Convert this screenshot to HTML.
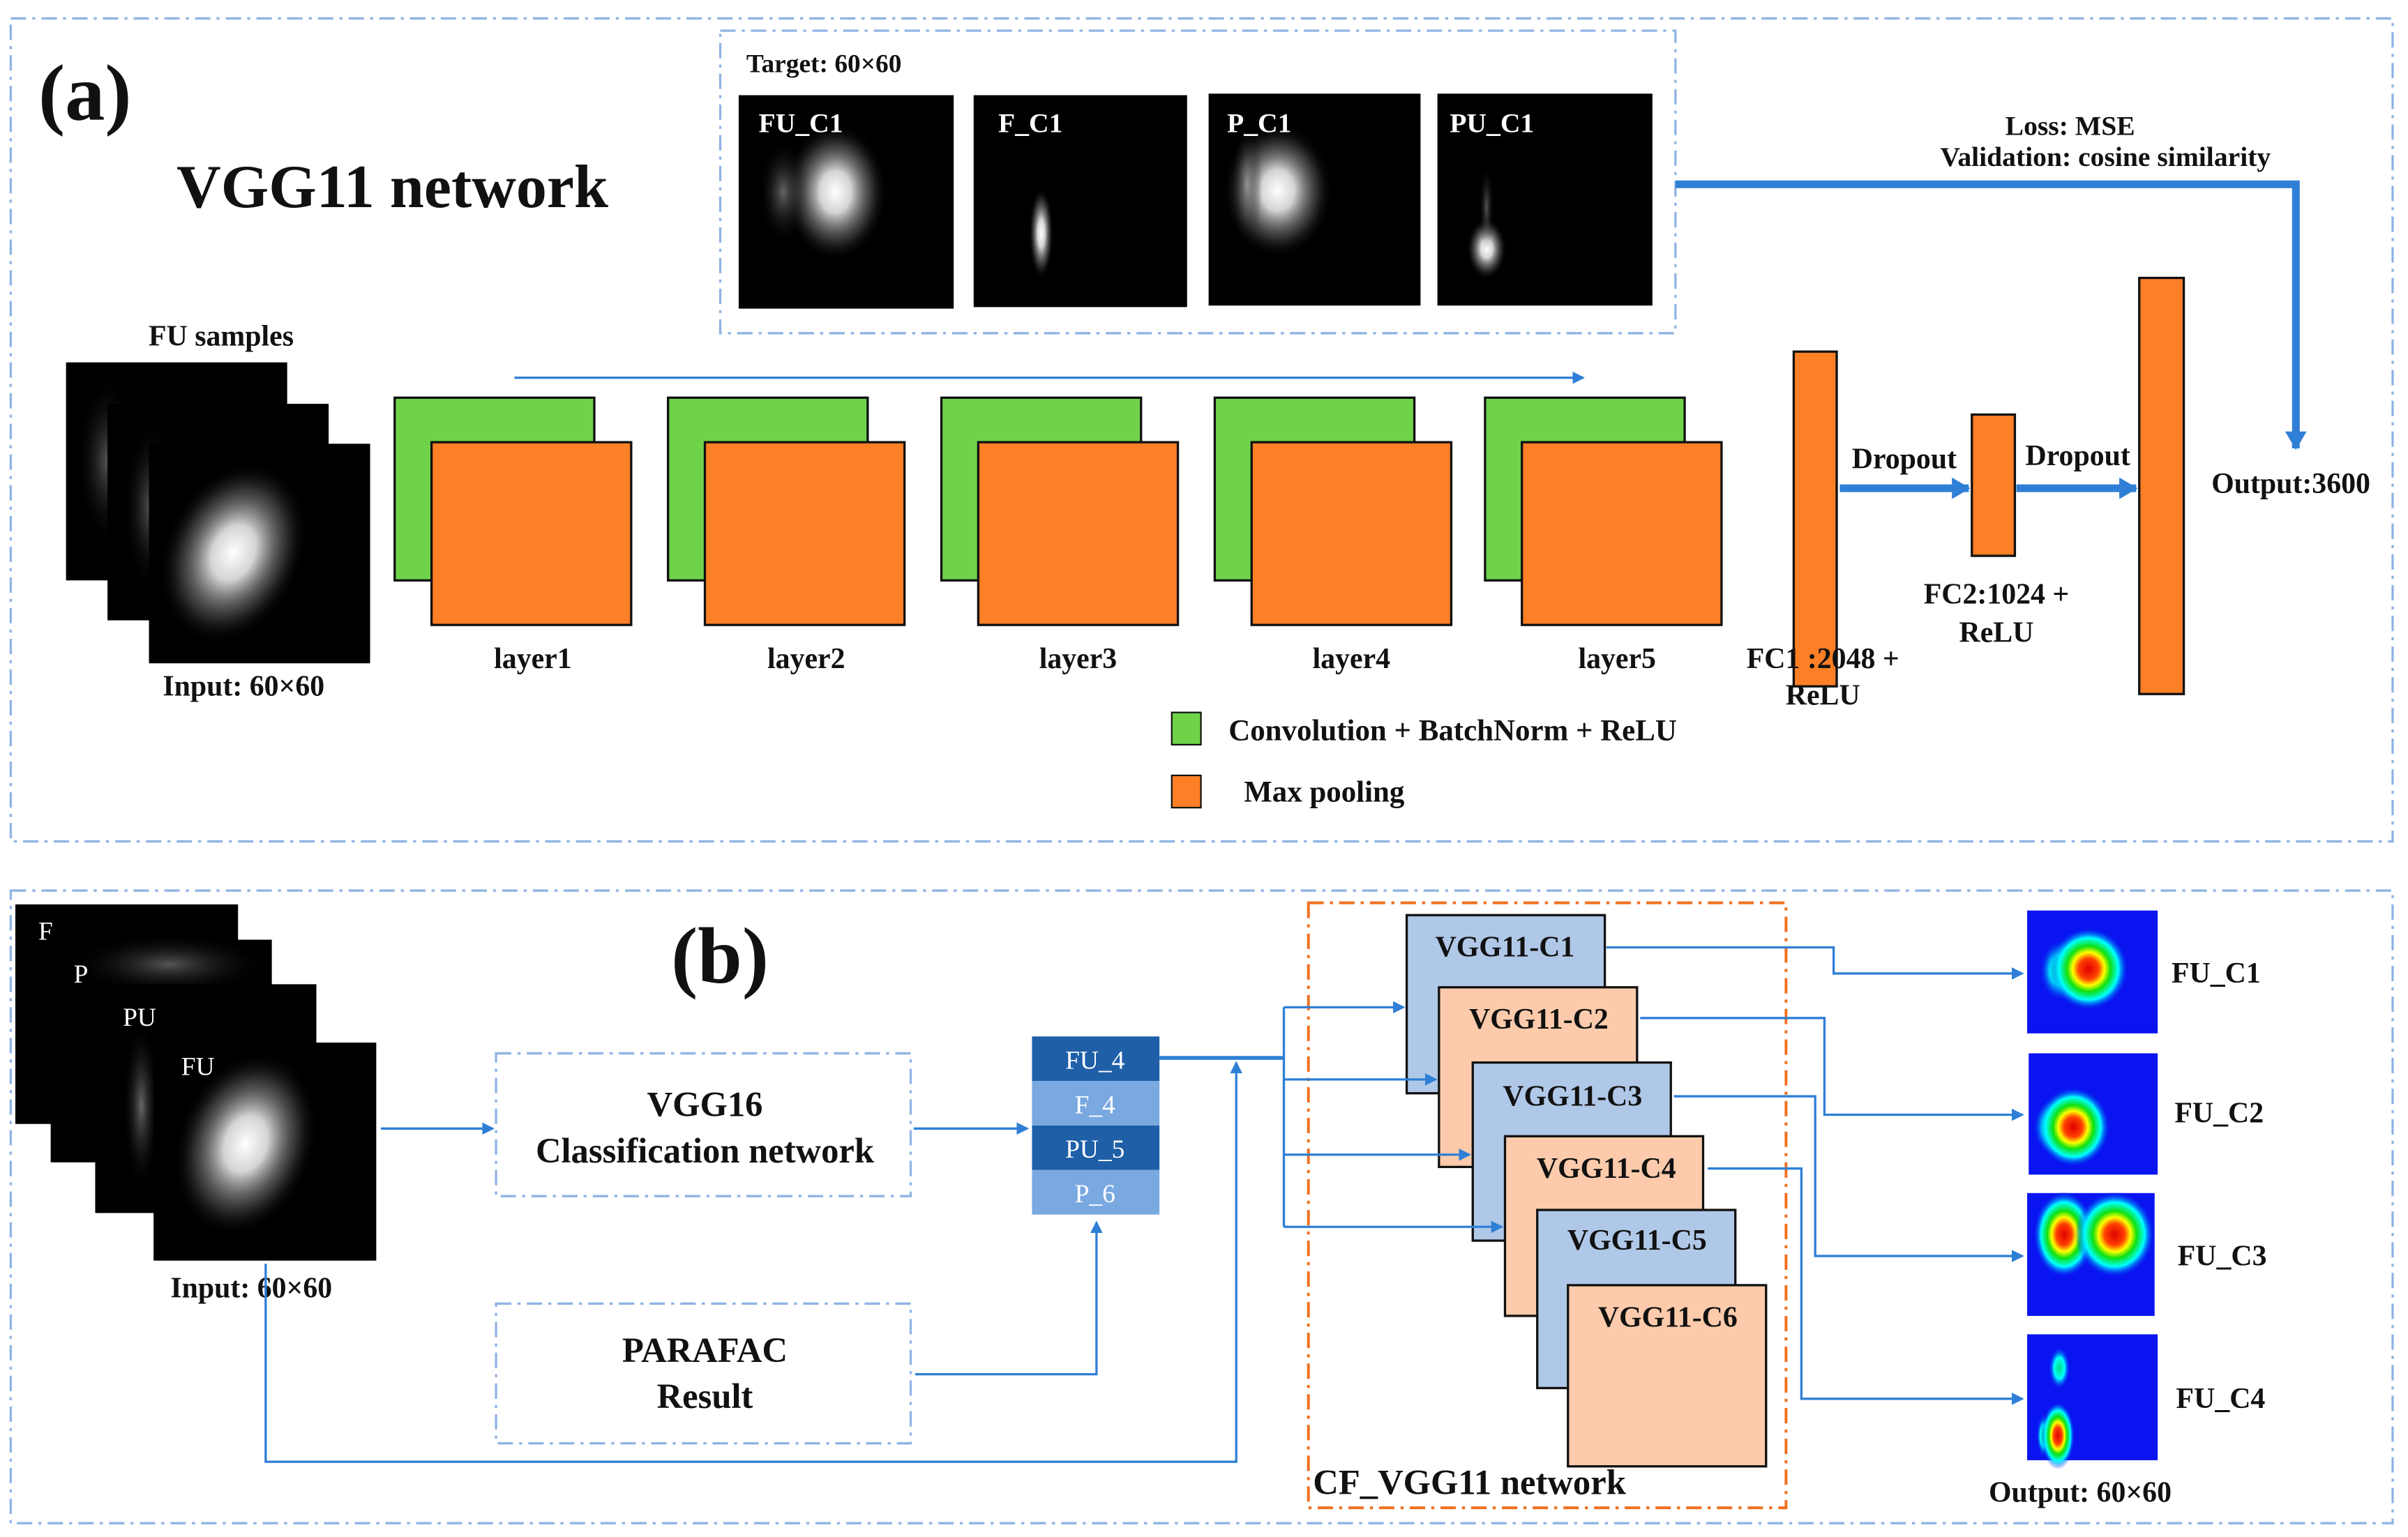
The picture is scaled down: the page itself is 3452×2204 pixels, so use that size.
<!DOCTYPE html>
<html><head><meta charset="utf-8"><style>
html,body{margin:0;padding:0;background:#fff;}
svg{display:block;}
text{font-family:"Liberation Serif",serif;font-weight:bold;fill:#111;}
.w{fill:#fff;}
</style></head><body>
<svg width="3452" height="2204" viewBox="0 0 1568 1001" preserveAspectRatio="none" xmlns="http://www.w3.org/2000/svg">
<defs>
<radialGradient id="wb"><stop offset="0" stop-color="#fff"/><stop offset="0.3" stop-color="#e0e0e0" stop-opacity="0.95"/><stop offset="0.7" stop-color="#666" stop-opacity="0.5"/><stop offset="1" stop-color="#000" stop-opacity="0"/></radialGradient>
<radialGradient id="gb"><stop offset="0" stop-color="#aaa"/><stop offset="1" stop-color="#000" stop-opacity="0"/></radialGradient>
<radialGradient id="jet"><stop offset="0" stop-color="#e00000"/><stop offset="0.25" stop-color="#ff4000"/><stop offset="0.4" stop-color="#ffff00"/><stop offset="0.55" stop-color="#10e010"/><stop offset="0.75" stop-color="#00ffff"/><stop offset="1" stop-color="#0010f0" stop-opacity="0"/></radialGradient>
<radialGradient id="jetc"><stop offset="0" stop-color="#00e080"/><stop offset="0.5" stop-color="#00ffff"/><stop offset="1" stop-color="#0010f0" stop-opacity="0"/></radialGradient>
<marker id="ah" markerWidth="8" markerHeight="8" refX="7" refY="4" orient="auto" markerUnits="userSpaceOnUse"><path d="M0,0 L8,4 L0,8 z" fill="#2f7fd6"/></marker>
<marker id="ahb" markerWidth="12" markerHeight="14" refX="11" refY="7" orient="auto" markerUnits="userSpaceOnUse"><path d="M0,0 L12,7 L0,14 z" fill="#2f7fd6"/></marker>
</defs>

<rect x="7" y="12" width="1551" height="536" fill="none" stroke="#8fb4e4" stroke-width="1.5" stroke-dasharray="10,4,2,4"/>
<text x="25" y="78" font-size="52">(a)</text>
<text x="115" y="135" font-size="40">VGG11 network</text>

<rect x="469" y="20" width="622" height="197" fill="none" stroke="#8fb4e4" stroke-width="1.5" stroke-dasharray="10,4,2,4"/>
<text x="486" y="47" font-size="17">Target:  60×60</text>
<rect x="481" y="62" width="140" height="139" fill="#000"/>
<ellipse cx="544" cy="125" rx="34" ry="45" fill="url(#wb)"/>
<ellipse cx="510" cy="125" rx="16" ry="34" fill="url(#gb)" opacity="0.6"/>
<text x="494" y="86" font-size="18" class="w">FU_C1</text>
<rect x="634" y="62" width="139" height="138" fill="#000"/>
<ellipse cx="678" cy="152" rx="8" ry="30" fill="url(#wb)"/>
<text x="650" y="86" font-size="18" class="w">F_C1</text>
<rect x="787" y="61" width="138" height="138" fill="#000"/>
<ellipse cx="832" cy="124" rx="36" ry="44" fill="url(#wb)"/>
<ellipse cx="812" cy="120" rx="10" ry="40" fill="url(#gb)" opacity="0.7"/>
<text x="799" y="86" font-size="18" class="w">P_C1</text>
<rect x="936" y="61" width="140" height="138" fill="#000"/>
<ellipse cx="968" cy="162" rx="13" ry="20" fill="url(#wb)"/>
<ellipse cx="968" cy="135" rx="5" ry="28" fill="url(#gb)" opacity="0.5"/>
<text x="944" y="86" font-size="18" class="w">PU_C1</text>

<text x="1348" y="88" font-size="18" text-anchor="middle">Loss: MSE</text>
<text x="1371" y="108" font-size="18" text-anchor="middle">Validation: cosine similarity</text>
<path d="M1091,120 L1495,120 L1495,292" fill="none" stroke="#2f7fd6" stroke-width="5" marker-end="url(#ahb)"/>

<text x="144" y="225" font-size="19" text-anchor="middle">FU samples</text>
<rect x="43" y="236" width="144" height="142" fill="#000"/>
<ellipse cx="70" cy="300" rx="20" ry="55" fill="url(#gb)" opacity="0.5"/>
<rect x="70" y="263" width="144" height="141" fill="#000"/>
<ellipse cx="98" cy="330" rx="18" ry="55" fill="url(#gb)" opacity="0.5"/>
<rect x="97" y="289" width="144" height="143" fill="#000"/>
<ellipse cx="152" cy="360" rx="45" ry="62" fill="url(#wb)" transform="rotate(25 152 360)"/>
<text x="106" y="453" font-size="19">Input:  60×60</text>

<line x1="335" y1="246" x2="1031" y2="246" stroke="#2f7fd6" stroke-width="1.5" marker-end="url(#ah)"/>

<g stroke="#111" stroke-width="1.5">
<rect x="257" y="259" width="130" height="119" fill="#6fd34a"/><rect x="281" y="288" width="130" height="119" fill="#fd7f26"/>
<rect x="435" y="259" width="130" height="119" fill="#6fd34a"/><rect x="459" y="288" width="130" height="119" fill="#fd7f26"/>
<rect x="613" y="259" width="130" height="119" fill="#6fd34a"/><rect x="637" y="288" width="130" height="119" fill="#fd7f26"/>
<rect x="791" y="259" width="130" height="119" fill="#6fd34a"/><rect x="815" y="288" width="130" height="119" fill="#fd7f26"/>
<rect x="967" y="259" width="130" height="119" fill="#6fd34a"/><rect x="991" y="288" width="130" height="119" fill="#fd7f26"/>
<rect x="1168" y="229" width="28" height="218" fill="#fd7f26"/>
<rect x="1284" y="270" width="28" height="92" fill="#fd7f26"/>
<rect x="1393" y="181" width="29" height="271" fill="#fd7f26"/>
</g>
<g font-size="19" text-anchor="middle">
<text x="347" y="435">layer1</text><text x="525" y="435">layer2</text><text x="702" y="435">layer3</text><text x="880" y="435">layer4</text><text x="1053" y="435">layer5</text>
<text x="1187" y="435">FC1 :2048 +</text><text x="1187" y="459">ReLU</text>
<text x="1300" y="393">FC2:1024 +</text><text x="1300" y="418">ReLU</text>
<text x="1240" y="305">Dropout</text><text x="1353" y="303">Dropout</text>
</g>
<text x="1440" y="321" font-size="19">Output:3600</text>
<line x1="1198" y1="318" x2="1282" y2="318" stroke="#2f7fd6" stroke-width="5" marker-end="url(#ahb)"/>
<line x1="1313" y1="318" x2="1391" y2="318" stroke="#2f7fd6" stroke-width="5" marker-end="url(#ahb)"/>

<rect x="763" y="464" width="19" height="21" fill="#6fd34a" stroke="#111"/>
<text x="800" y="482" font-size="19.5">Convolution + BatchNorm + ReLU</text>
<rect x="763" y="505" width="19" height="21" fill="#fd7f26" stroke="#111"/>
<text x="810" y="522" font-size="19.5">Max pooling</text>

<rect x="7" y="580" width="1551" height="412" fill="none" stroke="#8fb4e4" stroke-width="1.5" stroke-dasharray="10,4,2,4"/>
<text x="437" y="640" font-size="52">(b)</text>

<rect x="10" y="589" width="145" height="143" fill="#000"/>
<text x="25" y="612" font-size="17" class="w" style="font-weight:normal">F</text>
<rect x="33" y="612" width="144" height="145" fill="#000"/>
<ellipse cx="110" cy="628" rx="65" ry="20" fill="url(#gb)" opacity="0.5"/>
<text x="48" y="640" font-size="17" class="w" style="font-weight:normal">P</text>
<rect x="62" y="641" width="144" height="149" fill="#000"/>
<ellipse cx="92" cy="720" rx="12" ry="55" fill="url(#gb)" opacity="0.6"/>
<text x="80" y="668" font-size="17" class="w" style="font-weight:normal">PU</text>
<rect x="100" y="679" width="145" height="142" fill="#000"/>
<ellipse cx="160" cy="745" rx="45" ry="62" fill="url(#wb)" transform="rotate(20 160 745)"/>
<text x="118" y="700" font-size="17" class="w" style="font-weight:normal">FU</text>
<text x="111" y="845" font-size="19">Input:  60×60</text>

<line x1="248" y1="735" x2="321" y2="735" stroke="#2f7fd6" stroke-width="1.5" marker-end="url(#ah)"/>
<rect x="323" y="686" width="270" height="93" fill="none" stroke="#8fb4e4" stroke-width="1.5" stroke-dasharray="10,4,2,4"/>
<text x="459" y="727" font-size="23" text-anchor="middle">VGG16</text>
<text x="459" y="757" font-size="23" text-anchor="middle">Classification network</text>
<line x1="595" y1="735" x2="669" y2="735" stroke="#2f7fd6" stroke-width="1.5" marker-end="url(#ah)"/>

<rect x="672" y="675" width="83" height="29" fill="#1f5fa8"/>
<rect x="672" y="704" width="83" height="29" fill="#7aa8e0"/>
<rect x="672" y="733" width="83" height="29" fill="#1f5fa8"/>
<rect x="672" y="762" width="83" height="29" fill="#7aa8e0"/>
<g font-size="17" text-anchor="middle">
<text x="713" y="696" class="w" style="font-weight:normal">FU_4</text>
<text x="713" y="725" class="w" style="font-weight:normal">F_4</text>
<text x="713" y="754" class="w" style="font-weight:normal">PU_5</text>
<text x="713" y="783" class="w" style="font-weight:normal">P_6</text>
</g>

<rect x="323" y="849" width="270" height="91" fill="none" stroke="#8fb4e4" stroke-width="1.5" stroke-dasharray="10,4,2,4"/>
<text x="459" y="887" font-size="23" text-anchor="middle">PARAFAC</text>
<text x="459" y="917" font-size="23" text-anchor="middle">Result</text>
<path d="M596,895 L714,895 L714,796" fill="none" stroke="#2f7fd6" stroke-width="1.5" marker-end="url(#ah)"/>
<path d="M173,823 L173,952 L805,952 L805,692" fill="none" stroke="#2f7fd6" stroke-width="1.5" marker-end="url(#ah)"/>

<line x1="755" y1="689" x2="836" y2="689" stroke="#2f7fd6" stroke-width="2.5"/>
<line x1="836" y1="656" x2="836" y2="799" stroke="#2f7fd6" stroke-width="1.5"/>

<rect x="852" y="588" width="311" height="394" fill="none" stroke="#f07020" stroke-width="1.8" stroke-dasharray="10,4,2,4"/>
<g stroke="#111" stroke-width="1.5">
<rect x="916" y="596" width="129" height="116" fill="#b0c8e8"/>
<rect x="937" y="643" width="129" height="117" fill="#fdcbab"/>
<rect x="959" y="692" width="129" height="116" fill="#b0c8e8"/>
<rect x="980" y="740" width="129" height="117" fill="#fdcbab"/>
<rect x="1001" y="788" width="129" height="116" fill="#b0c8e8"/>
<rect x="1021" y="837" width="129" height="118" fill="#fdcbab"/>
</g>
<g stroke="#2f7fd6" stroke-width="1.5">
<line x1="836" y1="656" x2="914" y2="656" marker-end="url(#ah)"/>
<line x1="836" y1="703" x2="935" y2="703" marker-end="url(#ah)"/>
<line x1="836" y1="752" x2="957" y2="752" marker-end="url(#ah)"/>
<line x1="836" y1="799" x2="978" y2="799" marker-end="url(#ah)"/>
</g>
<g font-size="19" text-anchor="middle">
<text x="980" y="623">VGG11-C1</text>
<text x="1002" y="670">VGG11-C2</text>
<text x="1024" y="720">VGG11-C3</text>
<text x="1046" y="767">VGG11-C4</text>
<text x="1066" y="814">VGG11-C5</text>
<text x="1086" y="864">VGG11-C6</text>
</g>
<text x="855" y="973" font-size="23">CF_VGG11 network</text>

<g fill="none" stroke="#2f7fd6" stroke-width="1.5">
<path d="M1046,617 L1194,617 L1194,634 L1317,634" marker-end="url(#ah)"/>
<path d="M1068,663 L1188,663 L1188,726 L1317,726" marker-end="url(#ah)"/>
<path d="M1090,714 L1182,714 L1182,818 L1317,818" marker-end="url(#ah)"/>
<path d="M1112,761 L1173,761 L1173,911 L1317,911" marker-end="url(#ah)"/>
</g>

<rect x="1320" y="593" width="85" height="80" fill="#0a14f0"/>
<ellipse cx="1342" cy="632" rx="14" ry="20" fill="url(#jetc)"/>
<ellipse cx="1360" cy="631" rx="26" ry="27" fill="url(#jet)"/>
<rect x="1321" y="686" width="84" height="79" fill="#0a14f0"/>
<ellipse cx="1336" cy="734" rx="12" ry="18" fill="url(#jetc)"/>
<ellipse cx="1350" cy="734" rx="24" ry="26" fill="url(#jet)"/>
<rect x="1320" y="777" width="83" height="80" fill="#0a14f0"/>
<ellipse cx="1344" cy="804" rx="20" ry="28" fill="url(#jet)"/>
<ellipse cx="1377" cy="804" rx="26" ry="28" fill="url(#jet)"/>
<rect x="1320" y="869" width="85" height="82" fill="#0a14f0"/>
<ellipse cx="1341" cy="891" rx="7" ry="14" fill="url(#jetc)"/>
<ellipse cx="1331" cy="935" rx="5" ry="14" fill="url(#jetc)"/>
<ellipse cx="1340" cy="935" rx="11" ry="22" fill="url(#jet)"/>
<g font-size="19">
<text x="1414" y="640">FU_C1</text>
<text x="1416" y="731">FU_C2</text>
<text x="1418" y="824">FU_C3</text>
<text x="1417" y="917">FU_C4</text>
<text x="1295" y="978">Output:  60×60</text>
</g>
</svg>
</body></html>
